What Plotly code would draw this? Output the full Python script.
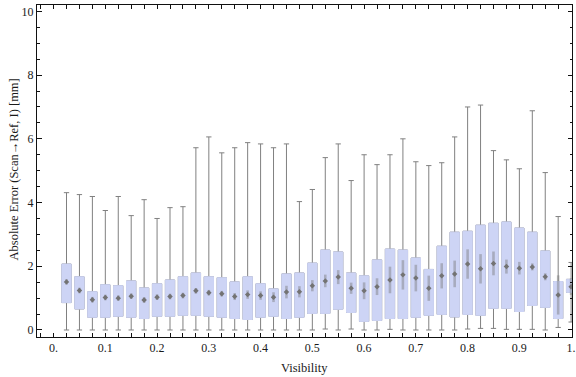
import plotly.graph_objects as go

# ---------------- data ----------------
visibility = [0.025, 0.05, 0.075, 0.1, 0.125, 0.15, 0.175, 0.2, 0.225, 0.25,
              0.275, 0.3, 0.325, 0.35, 0.375, 0.4, 0.425, 0.45, 0.475, 0.5,
              0.525, 0.55, 0.575, 0.6, 0.625, 0.65, 0.675, 0.7, 0.725, 0.75,
              0.775, 0.8, 0.825, 0.85, 0.875, 0.9, 0.925, 0.95, 0.975, 1.0]

whisker_low = [0, 0, 0, 0, 0, 0, 0, 0, 0, 0,
               0, 0, 0, 0, 0, 0, 0, 0, 0, 0,
               0.03, 0, 0.03, 0, 0, 0.02, 0, 0, 0, 0,
               0, 0.03, 0.05, 0.05, 0.02, 0.02, 0.02, 0, 0.08, 0.25]

q1 = [0.86, 0.66, 0.40, 0.40, 0.43, 0.40, 0.36, 0.43, 0.43, 0.46,
      0.46, 0.43, 0.40, 0.36, 0.33, 0.40, 0.43, 0.36, 0.40, 0.52,
      0.52, 0.65, 0.55, 0.27, 0.30, 0.36, 0.36, 0.40, 0.46, 0.49,
      0.41, 0.49, 0.46, 0.68, 0.68, 0.58, 0.77, 0.71, 0.36, 1.18]

median = [1.51, 1.24, 0.95, 1.02, 1.00, 1.06, 0.94, 1.03, 1.05, 1.08,
          1.23, 1.17, 1.14, 1.05, 1.11, 1.08, 1.03, 1.19, 1.20, 1.39,
          1.54, 1.66, 1.31, 1.23, 1.36, 1.57, 1.73, 1.63, 1.31, 1.70,
          1.76, 2.07, 1.92, 2.09, 1.99, 1.94, 1.98, 1.67, 1.10, 1.36]

q3 = [2.07, 1.67, 1.20, 1.42, 1.39, 1.54, 1.32, 1.45, 1.57, 1.67,
      1.79, 1.67, 1.64, 1.51, 1.67, 1.45, 1.29, 1.76, 1.79, 2.10,
      2.51, 2.45, 1.79, 1.70, 2.20, 2.54, 2.51, 2.26, 1.90, 2.63,
      3.07, 3.10, 3.29, 3.35, 3.39, 3.20, 3.07, 2.48, 1.52, 1.59]

whisker_high = [4.31, 4.25, 4.19, 3.75, 4.19, 3.59, 4.09, 3.50, 3.84, 3.87,
                5.72, 6.06, 5.56, 5.72, 5.88, 5.84, 5.72, 5.84, 4.03, 4.41,
                5.41, 5.84, 4.69, 5.50, 5.19, 5.50, 6.00, 5.28, 5.16, 5.25,
                6.06, 7.00, 7.06, 5.63, 5.34, 5.06, 6.88, 4.94, 3.56, 2.12]

x_tick_vals = [0.0, 0.1, 0.2, 0.3, 0.4, 0.5, 0.6, 0.7, 0.8, 0.9, 1.0]
x_tick_text = ["0.", "0.1", "0.2", "0.3", "0.4", "0.5", "0.6", "0.7", "0.8", "0.9", "1."]

x_title = "Visibility"
y_title = "Absolute Error (Scan\u2192Ref, I) [mm]"

# ---------------- style ----------------
# visual length (px) of the blurred median marker of each box
median_marker_len = [4, 4, 4, 4, 4, 4, 4, 4, 4, 4,
                     4, 4, 4, 5, 6, 6, 7, 9, 8, 8,
                     9, 10, 8, 12, 12, 19, 21, 19, 18, 18,
                     19, 21, 21, 17, 10, 9, 5, 5, 28, 12]

BOX_FILL = "rgb(205,212,245)"
WHISKER = "rgb(128,128,128)"
MEDIAN = "rgb(115,115,115)"
MEDIAN_BLUR = "rgba(115,115,115,0.6)"
FRAME = "#111111"
TEXT = "#1a1a1a"
FONT = "Liberation Serif"
BOX_W = 0.018

fig = go.Figure()

# box + whiskers (gray)
fig.add_trace(go.Box(
    x=visibility, q1=q1, median=median, q3=q3,
    lowerfence=whisker_low, upperfence=whisker_high,
    fillcolor=BOX_FILL, line=dict(color=WHISKER, width=1),
    width=BOX_W, whiskerwidth=0.57, boxpoints=False,
    hoverinfo="skip", showlegend=False))

# overlay box without outline, hiding the gray outline and median line
fig.add_trace(go.Box(
    x=visibility, q1=q1, median=median, q3=q3,
    lowerfence=q1, upperfence=q3,
    fillcolor=BOX_FILL, line=dict(color=BOX_FILL, width=1),
    width=BOX_W, whiskerwidth=0, boxpoints=False,
    hoverinfo="skip", showlegend=False))

# blurred vertical part of median markers
fig.add_trace(go.Scatter(
    x=visibility, y=median, mode="markers",
    marker=dict(symbol="line-ns-open", size=median_marker_len,
                color=MEDIAN_BLUR,
                line=dict(width=2.6, color=MEDIAN_BLUR)),
    hoverinfo="skip", showlegend=False))

# diamond median markers
fig.add_trace(go.Scatter(
    x=visibility, y=median, mode="markers",
    marker=dict(symbol="diamond", size=4.2, color=MEDIAN, line=dict(width=0)),
    hoverinfo="skip", showlegend=False))

axis_common = dict(
    showline=True, linecolor=FRAME, linewidth=1, mirror="ticks",
    ticks="inside", tickcolor=FRAME, tickwidth=1,
    showgrid=False, zeroline=False, automargin=False,
    tickfont=dict(family=FONT, size=12, color=TEXT),
)

fig.update_layout(
    width=576, height=377,
    margin=dict(l=37, r=4, t=5, b=40),
    paper_bgcolor="white", plot_bgcolor="white",
    boxmode="overlay",
    showlegend=False,
    font=dict(family=FONT, size=12, color=TEXT),
    xaxis=dict(
        **axis_common,
        range=[-0.032, 1.0017],
        tickmode="array", tickvals=x_tick_vals, ticktext=x_tick_text,
        ticklen=4,
        minor=dict(tickmode="linear", tick0=0, dtick=0.025, ticks="inside",
                   ticklen=4, tickcolor=FRAME, tickwidth=1, showgrid=False),
    ),
    yaxis=dict(
        **axis_common,
        range=[-0.22, 10.2],
        tickmode="linear", tick0=0, dtick=2, ticklen=4.5,
        minor=dict(tickmode="linear", tick0=0, dtick=0.5, ticks="inside",
                   ticklen=2.5, tickcolor=FRAME, tickwidth=1, showgrid=False),
    ),
    annotations=[
        dict(text=x_title, xref="paper", yref="paper", x=0.5, y=0,
             xanchor="center", yanchor="middle", yshift=-31, showarrow=False,
             font=dict(family=FONT, size=12.5, color=TEXT)),
        dict(text=y_title, xref="paper", yref="paper", x=0, y=0.5,
             xanchor="center", yanchor="middle", xshift=-24, yshift=1.5,
             textangle=-90, showarrow=False,
             font=dict(family=FONT, size=12.5, color=TEXT)),
    ],
)

fig.write_html(
    "out.html",
    config={"displayModeBar": False},
    post_script="document.body.style.margin='0';document.body.style.padding='0';",
)
